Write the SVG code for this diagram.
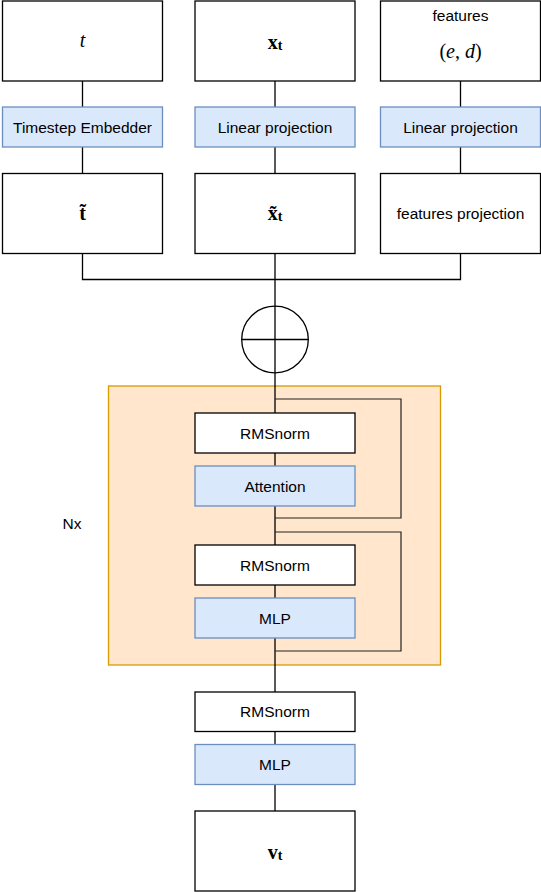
<svg xmlns="http://www.w3.org/2000/svg" width="541" height="892" viewBox="0 0 541 892">
<style>
.box{fill:#ffffff;stroke:#000000;stroke-width:1.3}
.blue{fill:#dae8fc;stroke:#6c8ebf;stroke-width:1.3}
.lbl{font-family:"Liberation Sans",Arial,sans-serif;font-size:15.5px;fill:#000;text-anchor:middle;dominant-baseline:central}
.math{font-family:"Liberation Serif","Times New Roman",serif;font-size:20px;fill:#000;text-anchor:middle;dominant-baseline:central}
.conn{fill:none;stroke:#000;stroke-width:1.3}
.skip{fill:none;stroke:#222;stroke-width:1.2}
</style>
<g id="block">
<rect x="108.5" y="386" width="332" height="279" fill="#ffe6cc" stroke="#d79b00" stroke-width="1.3"/>
<text class="lbl" x="72" y="523">Nx</text>
</g>
<g id="connectors">
<path class="conn" d="M82.5 80.5V107M82.5 147V173.5M275 80.5V107M275 147V173.5M460.5 80.5V107M460.5 147V173.5"/>
<path class="conn" d="M82.5 253.5V279.5H460.5V253.5M275 253.5V413M275 453V466M275 506V545M275 585V598M275 638V692M275 731.5V744.5M275 784.5V811"/>
<path class="skip" d="M275 399H401V518H275M275 532H401V651H275"/>
</g>
<g id="t"><rect class="box" x="2.5" y="1" width="160" height="80"/><text class="math" x="82.5" y="40" font-style="italic">t</text></g>
<g id="xt"><rect class="box" x="195" y="1" width="160" height="80"/><text class="math" x="275" y="42" font-weight="bold">x<tspan font-size="14" dy="3">t</tspan></text></g>
<g id="features"><rect class="box" x="380.5" y="1" width="160" height="80"/><text class="lbl" x="460.5" y="15">features</text><text class="math" x="460.5" y="51">(<tspan font-style="italic">e</tspan>, <tspan font-style="italic">d</tspan>)</text></g>
<g id="temb"><rect class="blue" x="2.5" y="107" width="160" height="40"/><text class="lbl" x="82.5" y="127">Timestep Embedder</text></g>
<g id="lin1"><rect class="blue" x="195" y="107" width="160" height="40"/><text class="lbl" x="275" y="127">Linear projection</text></g>
<g id="lin2"><rect class="blue" x="380.5" y="107" width="160" height="40"/><text class="lbl" x="460.5" y="127">Linear projection</text></g>
<g id="ttilde"><rect class="box" x="2.5" y="173.5" width="160" height="80"/><text class="math" x="82.5" y="213" font-weight="bold">t̃</text></g>
<g id="xtilde"><rect class="box" x="195" y="173.5" width="160" height="80"/><text class="math" x="275" y="213" font-weight="bold">x̃<tspan font-size="14" dy="3">t</tspan></text></g>
<g id="fproj"><rect class="box" x="380.5" y="173.5" width="160" height="80"/><text class="lbl" x="460.5" y="213">features projection</text></g>
<g id="sum"><circle cx="275" cy="339.5" r="33.3" fill="#fff" stroke="#000" stroke-width="1.3"/><path class="conn" d="M241.7 339.5H308.3M275 306.2V372.8"/></g>
<g id="rms1"><rect class="box" x="195" y="413" width="160" height="40"/><text class="lbl" x="275" y="433">RMSnorm</text></g>
<g id="attn"><rect class="blue" x="195" y="466" width="160" height="40"/><text class="lbl" x="275" y="486">Attention</text></g>
<g id="rms2"><rect class="box" x="195" y="545" width="160" height="40"/><text class="lbl" x="275" y="565">RMSnorm</text></g>
<g id="mlp1"><rect class="blue" x="195" y="598" width="160" height="40"/><text class="lbl" x="275" y="618">MLP</text></g>
<g id="rms3"><rect class="box" x="195" y="692" width="160" height="39.5"/><text class="lbl" x="275" y="711.5">RMSnorm</text></g>
<g id="mlp2"><rect class="blue" x="195" y="744.5" width="160" height="40"/><text class="lbl" x="275" y="764.5">MLP</text></g>
<g id="vt"><rect class="box" x="195" y="811" width="160" height="80"/><text class="math" x="275" y="852" font-weight="bold">v<tspan font-size="14" dy="3">t</tspan></text></g>
</svg>
